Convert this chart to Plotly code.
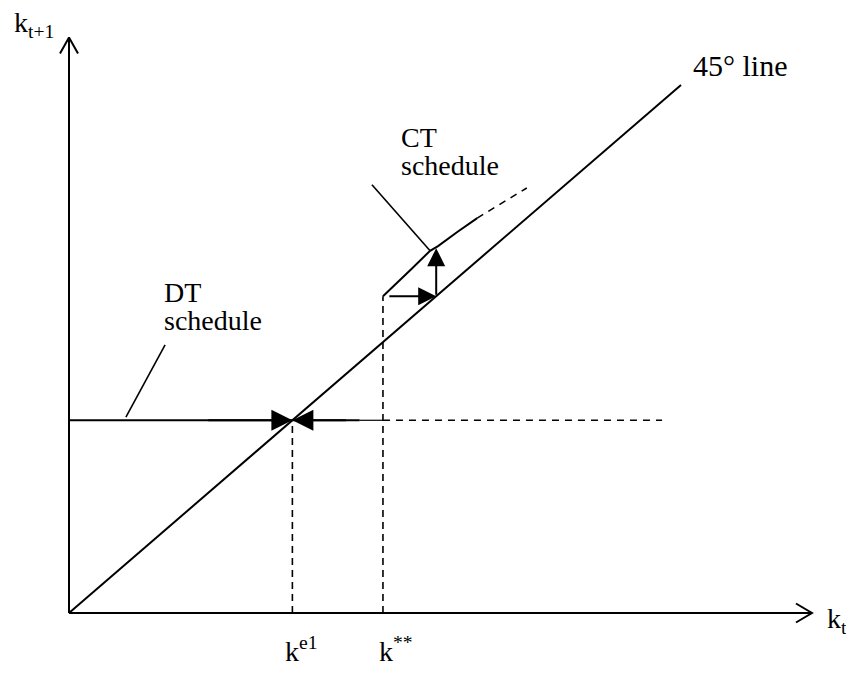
import plotly.graph_objects as go

# pixel -> data scale (45 degree line is y = x in data units)
PAGE = 8                      # default body margin of the html page
X0PX, Y0PX = 69 - PAGE, 613 - PAGE
SX, SY = 61.2, 52.8
W, H = 854 - 2 * PAGE, 675 - 2 * PAGE

# axes
x_axis_end = 12.14
y_axis_end = 10.9

# 45 degree line
line45_x = [0, 10]
line45_y = [0, 10]

# DT schedule (horizontal) and equilibrium k^e1
k_e1 = 3.65
k_ss = 5.13          # k**
dt_level = 3.65
dt_solid_end = 4.75
dt_dash_end = 9.69

# CT schedule
ct_x = [5.13, 5.35, 5.60, 5.90, 6.03, 6.35, 6.67]
ct_y = [6.00, 6.24, 6.52, 6.86, 6.95, 7.22, 7.48]
ct_dash_x = [6.67, 7.48]
ct_dash_y = [7.48, 8.05]

# label pointer lines
dt_ptr_x = [0.93, 1.57]
dt_ptr_y = [3.71, 5.08]
ct_ptr_x = [4.95, 5.90]
ct_ptr_y = [8.11, 6.86]

BLACK = "black"
FONT = "Liberation Serif"

fig = go.Figure()


def seg(x, y, dash=None, width=2):
    fig.add_trace(go.Scatter(x=x, y=y, mode="lines", hoverinfo="skip",
                             line=dict(color=BLACK, width=width, dash=dash)))


# axes with open arrow heads
hx, hy = 16 / SX, 9.5 / SY
seg([0, x_axis_end], [0, 0])
seg([x_axis_end - hx, x_axis_end, x_axis_end - hx], [hy, 0, -hy])
vx, vy = 9 / SX, 16 / SY
seg([0, 0], [0, y_axis_end])
seg([-vx, 0, vx], [y_axis_end - vy, y_axis_end, y_axis_end - vy])

# 45 degree line
seg(line45_x, line45_y)

# DT schedule
seg([0, dt_solid_end], [dt_level, dt_level])
seg([dt_solid_end, k_ss], [dt_level, dt_level], width=1.2)
seg([k_ss, dt_dash_end], [dt_level, dt_level], dash="7px,6px", width=1.6)
seg([k_e1, k_e1], [0, dt_level], dash="7px,5px", width=1.6)

# CT schedule
seg([k_ss, k_ss], [0, ct_y[0]], dash="7px,5px", width=1.6)
seg(ct_x, ct_y)
seg(ct_dash_x, ct_dash_y, dash="7px,6px", width=1.6)

# pointers
seg(dt_ptr_x, dt_ptr_y, width=1.6)
seg(ct_ptr_x, ct_ptr_y, width=1.6)

# arrows
arrows = [
    # (tip x, tip y, tail x, tail y, size)
    (k_e1, dt_level, k_e1 - 1.4, dt_level, 2.1),
    (k_e1, dt_level, k_e1 + 0.9, dt_level, 2.1),
    (6.0, 6.0, k_ss + 0.08, 6.0, 1.8),
    (6.0, 6.91, 6.0, 6.0, 1.8),
]
for tx, ty, ax_, ay_, sz in arrows:
    fig.add_annotation(x=tx, y=ty, ax=ax_, ay=ay_, xref="x", yref="y",
                       axref="x", ayref="y", text="", showarrow=True,
                       arrowhead=2, arrowsize=sz, arrowwidth=2,
                       arrowcolor=BLACK, standoff=0)


# text labels
def px(xp, yp):
    return (xp - PAGE - X0PX) / SX, (Y0PX - (yp - PAGE)) / SY


def label(xp, yp, text, size=28, xanchor="center"):
    x, y = px(xp, yp)
    fig.add_annotation(x=x, y=y, xref="x", yref="y", text=text,
                       showarrow=False, xanchor=xanchor, yanchor="middle",
                       font=dict(family=FONT, size=size, color=BLACK))


label(34, 24, "k<sub>t+1</sub>")
label(740, 65, "45° line", size=30)
label(399, 137, "CT", xanchor="left")
label(399, 165, "schedule", xanchor="left")
label(162, 292, "DT", xanchor="left")
label(162, 320, "schedule", xanchor="left")
label(301, 649, "k<sup>e1</sup>")
label(396, 649, "k<sup>**</sup>")
label(837, 620, "k<sub>t</sub>")

xr = [(0 - X0PX) / SX, (W - X0PX) / SX]
yr = [(Y0PX - H) / SY, Y0PX / SY]
fig.update_layout(
    width=W, height=H, margin=dict(l=0, r=0, t=0, b=0),
    paper_bgcolor="white", plot_bgcolor="white", showlegend=False,
    xaxis=dict(range=xr, visible=False, fixedrange=True),
    yaxis=dict(range=yr, visible=False, fixedrange=True),
)
fig.write_html("out.html")
